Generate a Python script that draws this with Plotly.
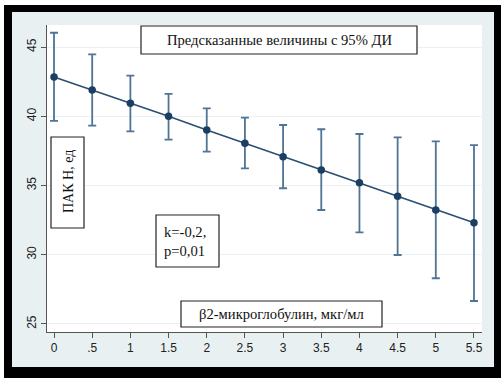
import plotly.graph_objects as go

# ---- data ----
x_vals = [0, 0.5, 1, 1.5, 2, 2.5, 3, 3.5, 4, 4.5, 5, 5.5]
predicted = [42.83, 41.90, 40.94, 40.00, 39.01, 38.05, 37.08, 36.12, 35.20, 34.22, 33.23, 32.31]
ci_upper = [46.03, 44.47, 42.93, 41.61, 40.57, 39.90, 39.37, 39.06, 38.72, 38.48, 38.19, 37.92]
ci_lower = [39.66, 39.32, 38.91, 38.31, 37.44, 36.24, 34.80, 33.23, 31.62, 29.98, 28.30, 26.66]
x_ticks = [0, 0.5, 1, 1.5, 2, 2.5, 3, 3.5, 4, 4.5, 5, 5.5]
x_ticktext = ["0", ".5", "1", "1.5", "2", "2.5", "3", "3.5", "4", "4.5", "5", "5.5"]
y_ticks = [25, 30, 35, 40, 45]

title_text = "Предсказанные величины с 95% ДИ"
ylabel_text = "ПАК Н, ед"
stat_text = "k=-0,2,<br>p=0,01"
xlabel_text = "β2-микроглобулин, мкг/мл"

W, H = 501, 378
L, R, T, B = 47, 482, 25, 332


def px(xp):
    return (xp - L) / (R - L)


def py(yp):
    return (B - yp) / (B - T)


err_plus = [u - p for u, p in zip(ci_upper, predicted)]
err_minus = [p - l for p, l in zip(predicted, ci_lower)]

fig = go.Figure()
fig.add_trace(go.Scatter(
    x=x_vals, y=predicted, mode="lines+markers",
    line=dict(color="#2a4f72", width=1.6),
    marker=dict(color="#1a3f63", size=7.5),
    error_y=dict(type="data", symmetric=False, array=err_plus, arrayminus=err_minus,
                 color="#4f7496", thickness=1.8, width=4),
    showlegend=False,
))

shapes = [
    # black frame
    dict(type="rect", xref="paper", yref="paper", x0=px(4), x1=px(501), y0=py(378), y1=py(5),
         fillcolor="black", line=dict(width=0), layer="below"),
    # light graph region
    dict(type="rect", xref="paper", yref="paper", x0=px(12), x1=px(494), y0=py(367), y1=py(12),
         fillcolor="#e9f0f2", line=dict(width=0), layer="below"),
    # white plot region
    dict(type="rect", xref="paper", yref="paper", x0=0, x1=1, y0=0, y1=1,
         fillcolor="white", line=dict(width=0), layer="below"),
]


def box(x0, y0, x1, y1):
    return dict(type="rect", xref="paper", yref="paper", x0=px(x0), x1=px(x1), y0=py(y1), y1=py(y0),
                fillcolor="white", line=dict(color="#222", width=1.2), layer="above")


shapes += [box(141, 26, 417, 54), box(51, 137, 84, 228), box(156, 215, 219, 267), box(181, 301, 382, 327)]


def serif(size):
    return dict(family="Liberation Serif", size=size, color="#111")


common = dict(xref="paper", yref="paper", showarrow=False, yanchor="middle")
annotations = [
    dict(x=px(279), y=py(40), text=title_text, xanchor="center", font=serif(14.6), **common),
    dict(x=px(68), y=py(182), text=ylabel_text, textangle=-90, xanchor="center",
         font=serif(14), **common),
    dict(x=px(162), y=py(241), text=stat_text, xanchor="left", align="left",
         font=serif(14.6), **common),
    dict(x=px(281), y=py(314), text=xlabel_text, xanchor="center", font=serif(14.6), **common),
]

fig.update_layout(
    width=W, height=H,
    margin=dict(l=L, r=W - R, t=T, b=H - B, pad=0),
    paper_bgcolor="white", plot_bgcolor="white",
    shapes=shapes, annotations=annotations,
    font=dict(family="Liberation Sans", size=12, color="#222"),
    xaxis=dict(range=[-0.092, 5.605], tickvals=x_ticks, ticktext=x_ticktext,
               showgrid=False, zeroline=False, showline=True, linecolor="#555", linewidth=1,
               ticks="outside", ticklen=5, tickcolor="#555", tickfont=dict(size=12, color="#222")),
    yaxis=dict(range=[24.42, 46.59], tickvals=y_ticks, tickangle=-90,
               showgrid=True, gridcolor="#eaf1f3", gridwidth=1.2, zeroline=False,
               showline=True, linecolor="#555", linewidth=1,
               ticks="outside", ticklen=5, tickcolor="#555", tickfont=dict(size=12, color="#222")),
)

fig.write_html("out.html", config={"displayModeBar": False},
               post_script="document.body.style.margin='0';")
